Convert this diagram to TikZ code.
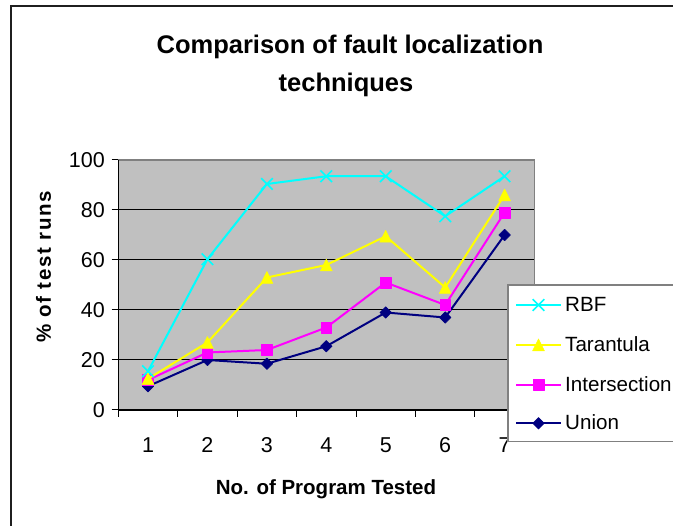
\documentclass[tikz,border=0pt]{standalone}
\usepackage{fontspec}
\setmainfont{Liberation Sans}
\newfontfamily\ylabfont[LetterSpace=8]{Liberation Sans}
\usetikzlibrary{plotmarks}
\definecolor{rbfc}{HTML}{00FFFF}
\definecolor{tarc}{HTML}{FFFF00}
\definecolor{intc}{HTML}{FF00FF}
\definecolor{unic}{HTML}{000080}
\definecolor{plotbg}{HTML}{C0C0C0}
\definecolor{bordergray}{HTML}{808080}
\pgfdeclareplotmark{rdiamond}{%
  \pgfpathmoveto{\pgfqpoint{0pt}{\pgfplotmarksize}}%
  \pgfpathlineto{\pgfqpoint{\pgfplotmarksize}{0pt}}%
  \pgfpathlineto{\pgfqpoint{0pt}{-\pgfplotmarksize}}%
  \pgfpathlineto{\pgfqpoint{-\pgfplotmarksize}{0pt}}%
  \pgfpathclose\pgfusepathqfillstroke}
\pgfdeclareplotmark{rtri}{%
  \pgfpathmoveto{\pgfqpoint{0pt}{\pgfplotmarksize}}%
  \pgfpathlineto{\pgfqpoint{\pgfplotmarksize}{-\pgfplotmarksize}}%
  \pgfpathlineto{\pgfqpoint{-\pgfplotmarksize}{-\pgfplotmarksize}}%
  \pgfpathclose\pgfusepathqfillstroke}
\pgfdeclareplotmark{rsq}{%
  \pgfpathrectangle{\pgfqpoint{-\pgfplotmarksize}{-\pgfplotmarksize}}{\pgfqpoint{2\pgfplotmarksize}{2\pgfplotmarksize}}%
  \pgfusepathqfillstroke}
\tikzset{
  series/.style={line width=2pt, line join=round},
  rbfline/.style={series, draw=rbfc, mark=x, mark size=8.2pt, mark options={line width=1.6pt, draw=rbfc}},
  tarline/.style={series, draw=tarc, mark=rtri, mark size=6pt, mark options={line width=0.5pt, draw=tarc, fill=tarc}},
  intline/.style={series, draw=intc, mark=rsq, mark size=5.3pt, mark options={line width=0.5pt, draw=intc, fill=intc}},
  uniline/.style={series, draw=unic, mark=rdiamond, mark size=5.8pt, mark options={line width=0.5pt, draw=unic, fill=unic}},
  legsample/.style={mark indices={2}},
  ticklab/.style={font=\fontsize{21.5}{24}\selectfont, inner sep=0pt},
  leglab/.style={font=\fontsize{20.6}{24}\selectfont, inner sep=0pt, anchor=base west},
  grid/.style={draw=black, line width=1pt},
}
\begin{document}
\begin{tikzpicture}[x=1pt, y=-1pt]
\clip (0,0) rectangle (673,526);
\fill[white] (0,0) rectangle (673,526);
% outer frame (left and top edges visible)
\draw[line width=2pt, draw=black!88] (10.5,530) -- (10.5,6.5) -- (680,6.5);
% title
\node[anchor=base, inner sep=0pt, font=\bfseries\fontsize{25.5}{30}\selectfont] (t1) at (350,53.3) {Comparison of fault localization};
\node[anchor=base, inner sep=0pt, font=\bfseries\fontsize{25.5}{30}\selectfont] (t2) at (346,91.7) {techniques};
% plot area
\fill[plotbg] (118.3,160) rectangle (534.3,410);
\draw[bordergray, line width=1.2pt] (118.3,160) -- (534.3,160) -- (534.3,410);
\foreach \v/\yy in {20/360,40/310,60/260,80/210} {
  \draw[grid] (118.3,\yy) -- (534.3,\yy);
}
% axes
\draw[line width=1.2pt] (118.3,160) -- (118.3,410) -- (534.3,410);
\foreach \v/\yy in {0/410,20/360,40/310,60/260,80/210,100/160} {
  \draw[line width=1pt] (111.5,\yy) -- (118.3,\yy);
  \node[ticklab, anchor=east] (yl\v) at (105,\yy) {\v};
}
\foreach \k in {0,...,7} {
  \draw[line width=1pt] ({118.3+59.43*\k},410) -- ({118.3+59.43*\k},417);
}
\foreach \k in {1,...,7} {
  \node[ticklab, anchor=base] (xl\k) at ({118.3+59.43*(\k-0.5)},452.7) {\k};
}
% axis titles
\node[rotate=90, inner sep=0pt, font=\ylabfont\bfseries\fontsize{20.5}{24}\selectfont] (ylab) at (43.5,267) {\% of test runs};
\node[anchor=base, inner sep=0pt, font=\bfseries\fontsize{20.5}{24}\selectfont] (xlab) at (326,495) {No. of Program Tested};
% series
\draw[uniline] plot coordinates {(148.0,386.25) (207.4,360) (266.9,363.75) (326.3,346.25) (385.7,312.5) (445.2,317.5) (504.6,235)};
\draw[intline] plot coordinates {(148.0,380) (207.4,352.5) (266.9,350) (326.3,327.5) (385.7,282.5) (445.2,305) (504.6,212.5)};
\draw[tarline] plot coordinates {(148.0,378.75) (207.4,342.5) (266.9,277.5) (326.3,265) (385.7,236.25) (445.2,287.5) (504.6,195)};
\draw[rbfline] plot coordinates {(148.0,371.25) (207.4,259.25) (266.9,184) (326.3,176.25) (385.7,176.25) (445.2,216.25) (504.6,176.25)};
% legend
\draw[fill=white, draw=bordergray, line width=1.5pt] (508,285) rectangle (700,441.7);
\draw[rbfline, legsample] plot coordinates {(516,305) (538.5,305) (561,305)};
\draw[tarline, legsample] plot coordinates {(516,345) (538.5,345) (561,345)};
\draw[intline, legsample] plot coordinates {(516,385) (538.5,385) (561,385)};
\draw[uniline, legsample] plot coordinates {(516,423.3) (538.5,423.3) (561,423.3)};
\node[leglab] (lrbf) at (565,311.7) {RBF};
\node[leglab] (ltar) at (565,351.7) {Tarantula};
\node[leglab] (lint) at (565,391.7) {Intersection};
\node[leglab] (luni) at (565,430) {Union};
\end{tikzpicture}
\end{document}
